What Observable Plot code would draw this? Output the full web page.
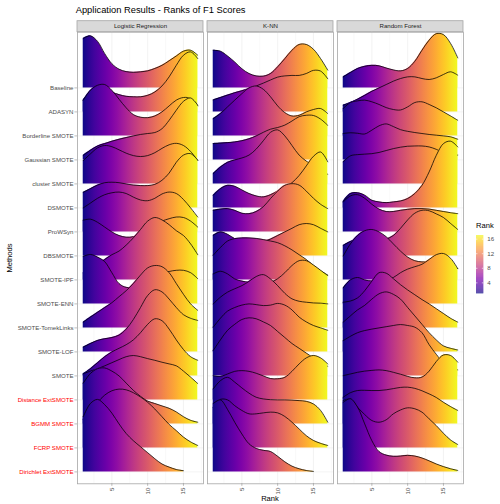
<!DOCTYPE html>
<html>
<head>
<meta charset="utf-8">
<script src="https://cdn.jsdelivr.net/npm/d3@7"></script>
<script src="https://cdn.jsdelivr.net/npm/@observablehq/plot@0.6"></script>
<style>
  body { margin: 0; background: #fff; font-family: "Liberation Sans", Arial, sans-serif; }
  #fig { position: relative; width: 500px; height: 504px; overflow: hidden; background: #fff; }
  #fig > svg, #fig > div { position: absolute; }
  .txt { white-space: nowrap; line-height: 1; }
</style>
</head>
<body>
<svg width="0" height="0" style="position:absolute">
  <defs><linearGradient id="ridge-fill" gradientUnits="userSpaceOnUse" x1="0" x2="1" y1="0" y2="0"></linearGradient></defs>
</svg>
<div id="fig"></div>
<script>
const classifiers = ["Logistic Regression", "K-NN", "Random Forest"];
const methods = [
  "Baseline", "ADASYN", "Borderline SMOTE", "Gaussian SMOTE", "cluster SMOTE",
  "DSMOTE", "ProWSyn", "DBSMOTE", "SMOTE-IPF", "SMOTE-ENN", "SMOTE-TomekLinks",
  "SMOTE-LOF", "SMOTE", "Distance ExtSMOTE", "BGMM SMOTE", "FCRP SMOTE", "Dirichlet ExtSMOTE"
];
const proposedMethods = ["Distance ExtSMOTE", "BGMM SMOTE", "FCRP SMOTE", "Dirichlet ExtSMOTE"];
const rankGrid = [1, 2, 3, 4, 5, 6, 7, 8, 9, 10, 11, 12, 13, 14, 15, 16, 17];
const rankTicks = [5, 10, 15];
const rankMinorTicks = [2.5, 7.5, 12.5, 17.5];
const rankExtent = [1, 17];
const legendTicks = [4, 8, 12, 16];

// Ridge heights (scaled density of the F1-score ranks) at ranks 1..17,
// one row per method in the order of `methods`; 1 unit = one ridge spacing.
const logRegDensity = [
  [2.06, 2.17, 1.94, 1.43, 1.01, 0.78, 0.68, 0.65, 0.67, 0.71, 0.81, 0.94, 1.13, 1.33, 1.53, 1.57, 1.36],
  [0.5, 0.8, 1.0, 1.0, 0.83, 0.72, 0.65, 0.63, 0.63, 0.69, 0.83, 1.08, 1.46, 1.94, 2.36, 2.5, 2.22],
  [1.49, 1.9, 2.11, 2.14, 1.9, 1.53, 1.17, 0.89, 0.78, 0.76, 0.83, 1.0, 1.25, 1.49, 1.6, 1.56, 1.25],
  [0.19, 0.4, 0.58, 0.68, 0.78, 0.86, 0.93, 1.0, 1.06, 1.1, 1.14, 1.3, 1.65, 2.07, 2.44, 2.58, 2.28],
  [0.97, 1.25, 1.5, 1.6, 1.55, 1.42, 1.28, 1.18, 1.14, 1.18, 1.3, 1.48, 1.63, 1.69, 1.6, 1.35, 0.97],
  [0.65, 0.8, 0.95, 1.05, 1.07, 1.05, 1.0, 0.95, 0.93, 0.93, 0.98, 1.15, 1.45, 1.9, 2.2, 2.26, 1.99],
  [1.0, 1.2, 1.4, 1.55, 1.63, 1.66, 1.6, 1.45, 1.33, 1.3, 1.4, 1.58, 1.66, 1.6, 1.35, 1.0, 0.62],
  [1.49, 1.53, 1.4, 1.2, 1.0, 0.85, 0.78, 0.8, 0.9, 1.1, 1.3, 1.45, 1.55, 1.62, 1.6, 1.45, 1.2],
  [0.3, 0.45, 0.65, 0.85, 1.05, 1.2, 1.45, 1.75, 2.1, 2.45, 2.6, 2.5, 2.3, 2.05, 1.85, 1.5, 1.05],
  [1.98, 2.06, 1.95, 1.76, 1.3, 0.85, 0.69, 0.7, 0.8, 0.95, 1.1, 1.25, 1.35, 1.4, 1.4, 1.3, 1.05],
  [0.24, 0.45, 0.65, 0.85, 1.05, 1.3, 1.55, 1.85, 2.2, 2.5, 2.6, 2.55, 2.3, 1.85, 1.4, 1.0, 0.73],
  [0.2, 0.35, 0.48, 0.55, 0.6, 0.7, 0.95, 1.35, 1.85, 2.35, 2.59, 2.5, 2.2, 1.85, 1.55, 1.4, 1.31],
  [0.08, 0.3, 0.55, 0.8, 1.0, 1.15, 1.3, 1.5, 1.8, 2.15, 2.38, 2.3, 1.95, 1.5, 1.1, 0.8, 0.65],
  [1.09, 1.2, 1.3, 1.42, 1.55, 1.68, 1.8, 1.85, 1.8, 1.72, 1.65, 1.57, 1.5, 1.42, 1.2, 0.95, 0.68],
  [1.7, 2.1, 2.3, 2.33, 2.2, 2.0, 1.7, 1.4, 1.15, 0.95, 0.85, 0.75, 0.65, 0.5, 0.3, 0.15, 0.07],
  [1.2, 1.55, 1.9, 2.2, 2.38, 2.45, 2.42, 2.3, 2.12, 1.9, 1.62, 1.3, 0.98, 0.72, 0.45, 0.25, 0.1],
  [2.3, 2.85, 3.02, 2.8, 2.45, 2.0, 1.6, 1.3, 1.05, 0.8, 0.55, 0.33, 0.2, 0.1, 0.05]
];
const knnDensity = [
  [1.57, 1.53, 1.33, 1.08, 0.8, 0.6, 0.5, 0.49, 0.6, 0.88, 1.22, 1.57, 1.81, 1.81, 1.61, 1.22, 0.74],
  [0.5, 0.6, 0.7, 0.8, 0.88, 0.97, 1.08, 1.2, 1.33, 1.45, 1.5, 1.52, 1.52, 1.6, 1.73, 1.7, 1.38],
  [0.72, 0.93, 1.21, 1.49, 1.76, 2.0, 2.08, 1.94, 1.63, 1.25, 0.97, 0.83, 0.86, 1.0, 1.1, 1.14, 0.93],
  [0.68, 0.7, 0.72, 0.75, 0.8, 0.88, 1.0, 1.15, 1.28, 1.35, 1.45, 1.62, 1.8, 1.86, 1.85, 1.7, 1.44],
  [0.43, 0.7, 0.9, 1.0, 1.08, 1.2, 1.45, 1.8, 2.15, 2.25, 2.0, 1.6, 1.2, 0.95, 0.75, 0.55, 0.4],
  [0.53, 0.8, 0.94, 0.9, 0.75, 0.6, 0.5, 0.46, 0.55, 0.7, 0.85, 1.05, 1.35, 1.75, 2.15, 2.33, 1.92],
  [0.9, 0.95, 0.97, 0.9, 0.78, 0.76, 0.85, 1.05, 1.39, 1.7, 1.94, 2.01, 1.95, 1.7, 1.4, 1.15, 0.97],
  [0.86, 1.0, 0.9, 0.72, 0.6, 0.55, 0.55, 0.6, 0.7, 0.85, 1.0, 1.15, 1.3, 1.35, 1.3, 1.15, 1.0],
  [1.03, 1.35, 1.62, 1.72, 1.75, 1.75, 1.73, 1.68, 1.62, 1.55, 1.42, 1.25, 1.05, 0.85, 0.6, 0.38, 0.2],
  [1.25, 1.36, 1.25, 1.04, 0.95, 0.9, 0.88, 0.88, 0.9, 1.05, 1.3, 1.6, 1.8, 1.8, 1.62, 1.4, 1.18],
  [1.0, 1.28, 1.49, 1.63, 1.76, 1.94, 2.14, 2.22, 2.04, 1.76, 1.44, 1.21, 1.11, 1.07, 1.04, 1.03, 1.0],
  [1.03, 1.4, 1.7, 1.85, 1.95, 2.0, 1.97, 1.93, 1.95, 2.02, 1.95, 1.75, 1.45, 1.25, 1.1, 1.0, 0.9],
  [1.06, 1.5, 1.9, 2.15, 2.35, 2.42, 2.38, 2.25, 2.1, 1.85, 1.6, 1.35, 1.15, 0.95, 0.75, 0.55, 0.4],
  [1.01, 0.98, 1.08, 1.19, 1.22, 1.19, 1.11, 1.0, 0.89, 0.88, 0.94, 1.19, 1.5, 1.75, 1.85, 1.75, 1.5],
  [1.46, 1.8, 1.94, 1.74, 1.5, 1.28, 1.11, 1.04, 1.01, 1.0, 1.0, 0.99, 0.97, 0.94, 0.83, 0.56, 0.07],
  [1.69, 2.02, 2.0, 1.76, 1.56, 1.42, 1.42, 1.46, 1.49, 1.46, 1.31, 1.07, 0.79, 0.51, 0.31, 0.19, 0.1],
  [2.85, 3.0, 2.6, 2.07, 1.58, 1.17, 0.98, 0.9, 0.85, 0.65, 0.42, 0.24, 0.13, 0.06, 0.02]
];
const forestDensity = [
  [0.46, 0.64, 0.81, 0.9, 0.94, 0.92, 0.83, 0.75, 0.71, 0.81, 1.11, 1.57, 1.99, 2.26, 2.22, 1.85, 1.25],
  [0.28, 0.39, 0.53, 0.69, 0.86, 1.0, 1.14, 1.28, 1.39, 1.46, 1.46, 1.39, 1.35, 1.42, 1.56, 1.67, 1.53],
  [1.14, 1.39, 1.46, 1.49, 1.42, 1.31, 1.18, 1.1, 1.08, 1.21, 1.39, 1.42, 1.31, 1.17, 1.0, 0.83, 0.65],
  [1.1, 1.13, 1.11, 1.08, 1.24, 1.42, 1.5, 1.39, 1.26, 1.19, 1.14, 1.1, 1.06, 1.03, 1.0, 0.96, 0.86],
  [0.92, 1.17, 1.22, 1.24, 1.26, 1.31, 1.39, 1.47, 1.53, 1.57, 1.58, 1.58, 1.54, 1.44, 1.3, 1.2, 1.2],
  [0.28, 0.6, 0.63, 0.53, 0.32, 0.25, 0.22, 0.25, 0.29, 0.39, 0.6, 0.94, 1.5, 2.19, 2.68, 2.78, 2.54],
  [1.25, 1.5, 1.55, 1.4, 1.15, 0.95, 0.85, 0.85, 0.9, 0.94, 0.97, 0.97, 0.95, 0.9, 0.85, 0.8, 0.76],
  [0.44, 0.6, 0.7, 0.72, 0.7, 0.65, 0.7, 0.85, 1.15, 1.5, 1.78, 1.9, 1.88, 1.75, 1.6, 1.35, 1.1],
  [1.0, 1.5, 1.85, 2.05, 2.1, 2.0, 1.8, 1.5, 1.2, 0.95, 0.8, 0.75, 0.75, 0.75, 0.7, 0.6, 0.47],
  [0.67, 1.0, 1.1, 1.0, 0.95, 0.95, 1.0, 1.1, 1.3, 1.45, 1.55, 1.65, 1.85, 2.05, 2.1, 1.9, 1.47],
  [1.07, 1.12, 1.25, 1.55, 1.95, 2.3, 2.28, 2.05, 1.8, 1.58, 1.38, 1.18, 1.0, 0.8, 0.6, 0.4, 0.24],
  [1.24, 1.5, 1.75, 1.94, 2.2, 2.42, 2.5, 2.4, 2.2, 1.85, 1.5, 1.15, 0.8, 0.5, 0.25, 0.15, 0.08],
  [1.47, 1.65, 1.8, 1.89, 1.95, 2.0, 2.05, 2.1, 2.14, 2.1, 2.03, 1.8, 1.3, 0.9, 0.55, 0.35, 0.25],
  [1.01, 1.08, 1.15, 1.2, 1.23, 1.25, 1.22, 1.15, 1.07, 0.98, 0.92, 0.95, 1.2, 1.6, 1.87, 1.85, 1.57],
  [1.11, 1.3, 1.39, 1.4, 1.39, 1.39, 1.42, 1.47, 1.52, 1.53, 1.48, 1.38, 1.25, 1.1, 0.9, 0.72, 0.56],
  [1.97, 2.04, 1.69, 1.39, 1.14, 1.07, 1.17, 1.42, 1.58, 1.67, 1.63, 1.49, 1.21, 0.93, 0.61, 0.33, 0.14],
  [2.9, 3.05, 2.7, 2.0, 1.3, 0.85, 0.7, 0.65, 0.66, 0.69, 0.66, 0.58, 0.46, 0.33, 0.22, 0.13, 0.06]
];

// Long table: one point per classifier, method and rank; each ridge sits on its method's row.
const rowOf = m => methods.length - 1 - methods.indexOf(m);
const rowValues = methods.map(rowOf);
const ridges = [];
[[classifiers[0], logRegDensity], [classifiers[1], knnDensity], [classifiers[2], forestDensity]]
  .forEach(([classifier, table]) => {
    table.forEach((heights, i) => {
      const method = methods[i];
      const row = rowOf(method);
      heights.forEach((h, j) => ridges.push({classifier, method, row, rank: rankGrid[j], top: row + h}));
    });
  });

const W = 500, H = 504;
const M = {top: 31.7, right: 36, bottom: 20.7, left: 75.7};
const rowStep = 24;                  // pixels between two method rows
const panelH = H - M.top - M.bottom;
const yLow = -(483.3 - 471.4) / rowStep;
const yDomain = [yLow, yLow + panelH / rowStep];

const marks = [
  Plot.ruleY(rowValues, {stroke: "#ebebeb", strokeWidth: 0.6}),
  Plot.ruleX(rankMinorTicks, {stroke: "#f0f0f0", strokeWidth: 0.4}),
  Plot.ruleX(rankTicks, {stroke: "#ebebeb", strokeWidth: 0.6})
];
// Ridges are painted top to bottom so each lower ridge overlaps the one above it.
for (const m of methods) {
  const data = ridges.filter(d => d.method === m);
  marks.push(Plot.areaY(data, {x: "rank", y1: "row", y2: "top", fx: "classifier",
    fill: "url(#ridge-fill)", curve: "catmull-rom"}));
  marks.push(Plot.lineY(data, {x: "rank", y: "top", fx: "classifier",
    stroke: "#000", strokeWidth: 0.75, curve: "catmull-rom"}));
}
marks.push(
  Plot.frame({stroke: "#a6a6a6", strokeWidth: 0.8}),
  Plot.axisY(rowValues, {
    tickFormat: v => methods[methods.length - 1 - v],
    tickSize: 2.6, tickPadding: 1.4, fontSize: 6.1, stroke: "#7f7f7f", strokeWidth: 0.5,
    fill: v => proposedMethods.includes(methods[methods.length - 1 - v]) ? "#ff0000" : "#4d4d4d",
    label: null
  }),
  Plot.axisX(rankTicks, {tickSize: 2.6, tickPadding: 1.2, tickRotate: -90, fontSize: 6.1,
    stroke: "#7f7f7f", strokeWidth: 0.5, fill: "#4d4d4d", label: null}),
  Plot.axisFx({anchor: "top", tickSize: 0, tickPadding: 4.2, fontSize: 6.1, fill: "#1a1a1a", label: null})
);

const chart = Plot.plot({
  width: W, height: H,
  marginTop: M.top, marginRight: M.right, marginBottom: M.bottom, marginLeft: M.left,
  style: {fontFamily: "'Liberation Sans', Arial, sans-serif", background: "transparent"},
  fx: {domain: classifiers, paddingInner: 0.031, paddingOuter: 0},
  x: {domain: [0.2, 17.8]},
  y: {domain: yDomain},
  color: {type: "identity"},
  marks
});

// Plasma gradient running along the rank axis of every panel.
const xs = chart.scale("x");
const grad = document.getElementById("ridge-fill");
grad.setAttribute("x1", xs.apply(rankExtent[0]));
grad.setAttribute("x2", xs.apply(rankExtent[1]));
d3.range(0, 1.0001, 0.05).forEach(t => {
  const s = document.createElementNS("http://www.w3.org/2000/svg", "stop");
  s.setAttribute("offset", t);
  s.setAttribute("stop-color", d3.interpolatePlasma(t));
  grad.appendChild(s);
});

// Grey strip boxes behind the classifier names.
const fxs = chart.scale("fx");
const stripH = 11;
const strips = d3.create("svg:g");
classifiers.forEach(c => {
  strips.append("rect")
    .attr("x", fxs.apply(c)).attr("y", M.top - stripH)
    .attr("width", fxs.bandwidth).attr("height", stripH)
    .attr("fill", "#d9d9d9").attr("stroke", "#a6a6a6").attr("stroke-width", 0.8);
});
chart.insertBefore(strips.node(), chart.querySelector("g"));

const fig = document.getElementById("fig");
chart.style.left = "0px"; chart.style.top = "0px";
fig.appendChild(chart);

// Vertical colour bar for the rank gradient.
const barTop = 235, barBottom = 293.3, barLeft = 476, barWidth = 7.3;
const colorSteps = d3.range(rankExtent[0], rankExtent[1], 0.1);
const legend = Plot.plot({
  width: 36, height: 70,
  marginTop: barTop - 230, marginBottom: 230 + 70 - barBottom, marginLeft: barLeft - 470, marginRight: 36 - (barLeft - 470) - barWidth,
  style: {fontFamily: "'Liberation Sans', Arial, sans-serif", background: "transparent"},
  x: {axis: null},
  y: {domain: rankExtent},
  color: {type: "linear", interpolate: d3.interpolatePlasma, domain: rankExtent},
  marks: [
    Plot.rect(colorSteps, {y1: d => d, y2: d => Math.min(d + 0.1, rankExtent[1]), fill: d => d}),
    Plot.ruleY(legendTicks, {stroke: "#fff", strokeWidth: 0.6, insetRight: barWidth * 0.8}),
    Plot.ruleY(legendTicks, {stroke: "#fff", strokeWidth: 0.6, insetLeft: barWidth * 0.8}),
    Plot.axisY(legendTicks, {anchor: "right", tickSize: 0, tickPadding: 3.5, fontSize: 6.1, fill: "#4d4d4d", label: null})
  ]
});
legend.style.left = "470px"; legend.style.top = "230px";
fig.appendChild(legend);

// Titles and axis names.
function addText(text, css) {
  const el = document.createElement("div");
  el.className = "txt";
  el.textContent = text;
  Object.assign(el.style, css);
  fig.appendChild(el);
  return el;
}
addText("Application Results - Ranks of F1 Scores", {left: "75.7px", top: "5.8px", fontSize: "9.35px", color: "#000"});
addText("Rank", {left: "270px", top: "495px", fontSize: "7.6px", color: "#000", transform: "translateX(-50%)"});
addText("Methods", {left: "10px", top: "257.5px", fontSize: "7.6px", color: "#000", transform: "translate(-50%,-50%) rotate(-90deg)"});
addText("Rank", {left: "476px", top: "221.5px", fontSize: "7.6px", color: "#000"});
</script>
</body>
</html>
